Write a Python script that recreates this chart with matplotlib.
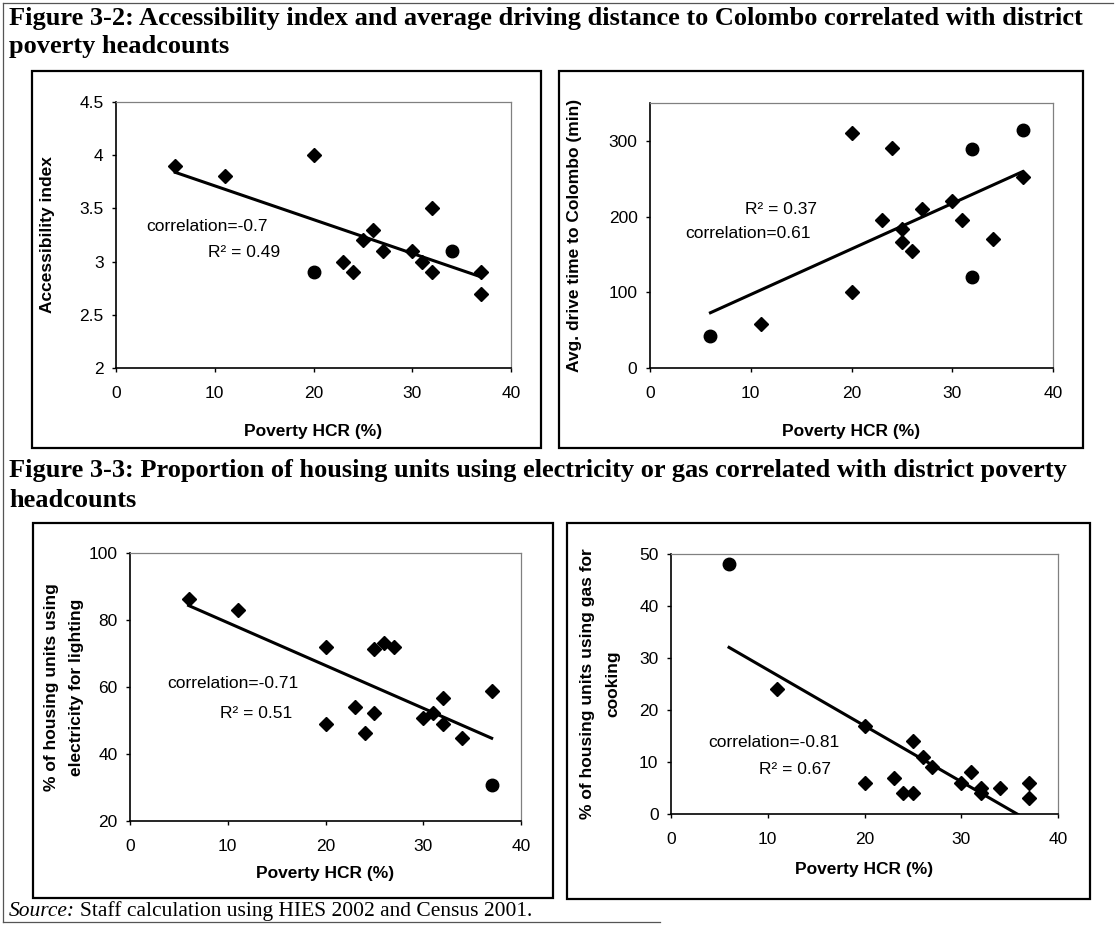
import matplotlib.pyplot as plt
from matplotlib.lines import Line2D
from matplotlib.patches import Rectangle
import numpy as np

W, H = 1116, 934

# Figure 3-2 left: accessibility index vs poverty HCR
acc_hcr = [6, 11, 20, 23, 24, 25, 26, 27, 30, 31, 32, 32, 37, 37]
acc_idx = [3.9, 3.8, 4.0, 3.0, 2.9, 3.2, 3.3, 3.1, 3.1, 3.0, 3.5, 2.9, 2.9, 2.7]
acc_hcr_big = [20, 34]
acc_idx_big = [2.9, 3.1]

# Figure 3-2 right: drive time to Colombo (min)
drv_hcr = [11, 20, 20, 23, 24, 25, 25, 26, 27, 30, 31, 34, 37]
drv_min = [58, 310, 100, 196, 291, 184, 167, 154, 210, 221, 196, 170, 252]
drv_hcr_big = [6, 32, 32, 37]
drv_min_big = [42, 289, 120, 314]

# Figure 3-3 left: electricity for lighting (%)
ele_hcr = [6, 11, 20, 20, 23, 24, 25, 25, 26, 27, 30, 31, 32, 32, 34, 37]
ele_pct = [86.3, 83, 72, 49, 54, 46.2, 71.3, 52.3, 73, 72, 50.6, 52.1, 56.6, 48.9, 44.7, 58.9]
ele_hcr_big = [37]
ele_pct_big = [30.7]

# Figure 3-3 right: gas for cooking (%)
gas_hcr = [11, 20, 20, 23, 24, 25, 25, 26, 27, 30, 31, 32, 32, 34, 37, 37]
gas_pct = [24, 17, 6, 7, 4, 4, 14, 11, 9, 6, 8, 5, 4, 5, 6, 3]
gas_hcr_big = [6]
gas_pct_big = [48]

xticks = [0, 10, 20, 30, 40]

FS = 12.5


def fig_rect(l, t, r, b):
    # pixel box -> figure fraction [left, bottom, width, height]
    return [l / W, 1 - b / H, (r - l) / W, (b - t) / H]


def panel(fig, box, plot, x, y, xb, yb, ylim, yticks, yticklabels,
          ylabel, ylabel_x, xpad, notes):
    l, t, r, b = box
    fig.add_artist(Rectangle((l / W, 1 - b / H), (r - l) / W, (b - t) / H,
                             transform=fig.transFigure, fill=False,
                             ec='black', lw=1.6))
    ax = fig.add_axes(fig_rect(*plot))
    ax.plot(x, y, ls='none', marker='D', ms=7.5, color='black', clip_on=False, zorder=3)
    ax.plot(xb, yb, ls='none', marker='o', ms=9, color='black', clip_on=False, zorder=3)

    allx = np.array(x + xb, dtype=float)
    ally = np.array(y + yb, dtype=float)
    k, c = np.polyfit(allx, ally, 1)
    xs = np.array([allx.min(), allx.max()])
    ax.plot(xs, k * xs + c, color='black', lw=2.2, zorder=2)

    ax.set_xlim(0, 40)
    ax.set_ylim(*ylim)
    ax.set_xticks(xticks)
    ax.set_yticks(yticks)
    ax.set_yticklabels(yticklabels)
    ax.tick_params(axis='both', direction='out', length=3, width=1,
                   labelsize=FS, colors='black')
    ax.tick_params(axis='x', pad=10)
    ax.tick_params(axis='y', pad=6)
    for s in ('left', 'bottom'):
        ax.spines[s].set_linewidth(1.2)
    for s in ('top', 'right'):
        ax.spines[s].set_color('#808080')
        ax.spines[s].set_linewidth(0.9)

    ax.set_xlabel('Poverty HCR (%)', fontsize=FS, fontweight='bold', labelpad=xpad)
    ax.set_ylabel(ylabel, fontsize=FS, fontweight='bold', linespacing=1.85)
    ax.yaxis.set_label_coords(ylabel_x, 0.5)

    for tx, ty, s in notes:
        ax.text(tx, ty, s, fontsize=FS, ha='left', va='center')
    return ax


plt.rcParams['font.family'] = ['Liberation Sans', 'DejaVu Sans']

fig = plt.figure(figsize=(W / 100, H / 100), dpi=100)

# outer frame of the scanned page
frame = dict(color='#555555', lw=0.9, transform=fig.transFigure)
fig.add_artist(Line2D([3 / W, 3 / W], [1 - 3 / H, 1 - 922 / H], **frame))
fig.add_artist(Line2D([3 / W, 1113 / W], [1 - 3 / H, 1 - 3 / H], **frame))
fig.add_artist(Line2D([3 / W, 660 / W], [1 - 922 / H, 1 - 922 / H], **frame))

serif = ['Liberation Serif', 'DejaVu Serif']
tkw = dict(fontsize=19, fontweight='bold', family=serif, ha='left', va='center')
fig.text(9 / W, 1 - 18 / H,
         'Figure 3-2: Accessibility index and average driving distance to Colombo correlated with district', **tkw)
fig.text(9 / W, 1 - 47 / H, 'poverty headcounts', **tkw)
fig.text(9 / W, 1 - 470 / H,
         'Figure 3-3: Proportion of housing units using electricity or gas correlated with district poverty', **tkw)
fig.text(9 / W, 1 - 500 / H, 'headcounts', **tkw)

panel(fig, (32, 71, 541, 448), (116, 102, 511, 368),
      acc_hcr, acc_idx, acc_hcr_big, acc_idx_big,
      (2, 4.5), [2, 2.5, 3, 3.5, 4, 4.5], ['2', '2.5', '3', '3.5', '4', '4.5'],
      'Accessibility index', -0.154, 16.5,
      [(3.1, 3.33, 'correlation=-0.7'), (9.3, 3.09, 'R² = 0.49')])

panel(fig, (559, 71, 1083, 448), (650, 103, 1053, 368),
      drv_hcr, drv_min, drv_hcr_big, drv_min_big,
      (0, 350), [0, 100, 200, 300], ['0', '100', '200', '300'],
      'Avg. drive time to Colombo (min)', -0.169, 16.5,
      [(9.4, 210, 'R² = 0.37'), (3.5, 178, 'correlation=0.61')])

panel(fig, (33, 523, 553, 898), (130, 553, 521, 821),
      ele_hcr, ele_pct, ele_hcr_big, ele_pct_big,
      (20, 100), [20, 40, 60, 80, 100], ['20', '40', '60', '80', '100'],
      '% of housing units using\nelectricity for lighting', -0.118, 8.5,
      [(3.8, 60.9, 'correlation=-0.71'), (9.25, 52.1, 'R² = 0.51')])

panel(fig, (567, 523, 1090, 899), (671, 554, 1058, 814),
      gas_hcr, gas_pct, gas_hcr_big, gas_pct_big,
      (0, 50), [0, 10, 20, 30, 40, 50], ['0', '10', '20', '30', '40', '50'],
      '% of housing units using gas for\ncooking', -0.132, 11,
      [(3.8, 13.8, 'correlation=-0.81'), (9.1, 8.5, 'R² = 0.67')])

src = fig.text(9 / W, 1 - 911 / H, 'Source:', fontsize=15.5, style='italic',
               family=serif, ha='left', va='center')
renderer = fig.canvas.get_renderer()
ext = src.get_window_extent(renderer)
fig.text((ext.x1 + 5) / W, 1 - 911 / H, 'Staff calculation using HIES 2002 and Census 2001.',
         fontsize=15.5, family=serif, ha='left', va='center')

fig.savefig('out.png', dpi=100)
